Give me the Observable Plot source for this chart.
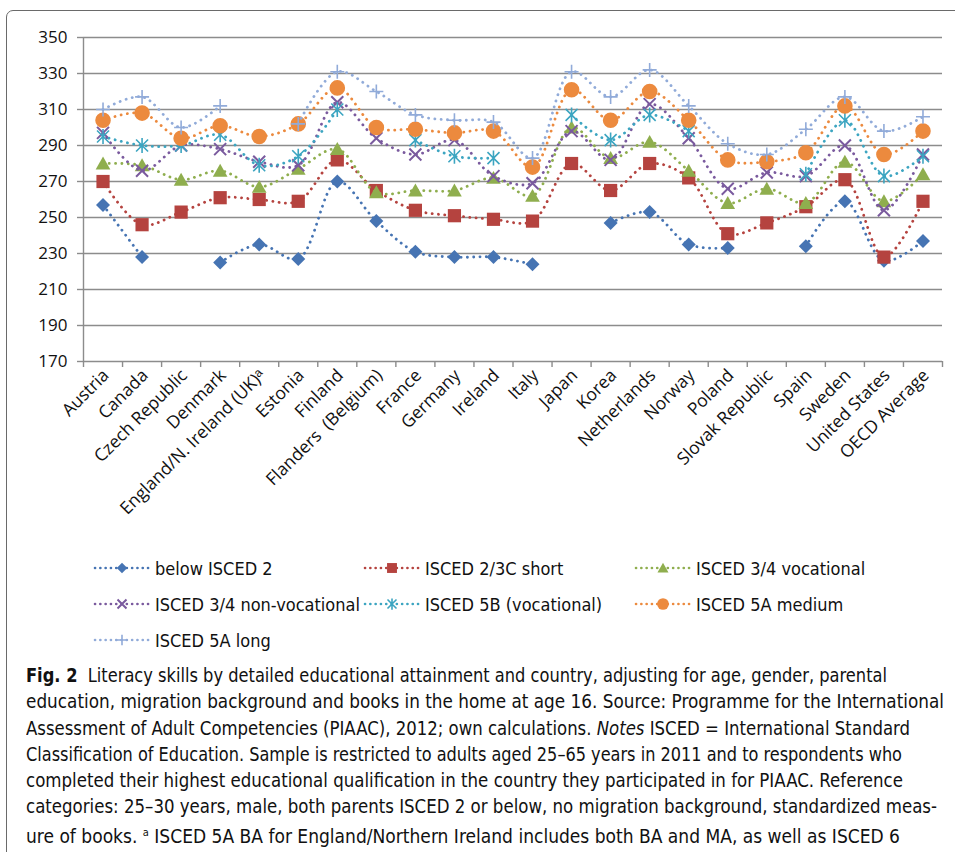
<!DOCTYPE html>
<html>
<head>
<meta charset="utf-8">
<script src="https://cdn.jsdelivr.net/npm/d3@7"></script>
<script src="https://cdn.jsdelivr.net/npm/@observablehq/plot@0.6"></script>
<style>
  body { margin: 0; background: #fff; width: 955px; height: 852px; overflow: hidden; position: relative; }
  #frame { position: absolute; left: 6px; top: 10px; width: 1000px; height: 900px; border: 1.3px solid #6a6a6a; border-radius: 7px; }
  #chart { position: absolute; left: 0; top: 0; }
  #legend { position: absolute; left: 0; top: 556px; width: 955px; font-family: "DejaVu Sans Condensed", "Noto Sans", sans-serif; font-size: 18px; color: #111; }
  .item { position: absolute; display: flex; align-items: center; height: 24px; white-space: nowrap; }
  .item svg { margin-right: 4px; }
  #caption { position: absolute; left: 26px; top: 662px; font-family: "DejaVu Sans Condensed", "Noto Sans", sans-serif; font-size: 19px; line-height: 26.3px; color: #111; white-space: nowrap; }
  #caption div { transform-origin: 0 50%; width: max-content; }
  #caption b { font-weight: bold; }
</style>
</head>
<body>
<div id="frame"></div>
<div id="chart"></div>
<div id="legend"></div>
<div id="caption">
<div data-w="861"><b>Fig. 2</b>&nbsp; Literacy skills by detailed educational attainment and country, adjusting for age, gender, parental</div>
<div data-w="918">education, migration background and books in the home at age 16. Source: Programme for the International</div>
<div data-w="884">Assessment of Adult Competencies (PIAAC), 2012; own calculations. <i>Notes</i> ISCED = International Standard</div>
<div data-w="876">Classification of Education. Sample is restricted to adults aged 25–65 years in 2011 and to respondents who</div>
<div data-w="877">completed their highest educational qualification in the country they participated in for PIAAC. Reference</div>
<div data-w="911">categories: 25–30 years, male, both parents ISCED 2 or below, no migration background, standardized meas-</div>
<div data-w="874">ure of books. <sup style="font-size:11px">a</sup> ISCED 5A BA for England/Northern Ireland includes both BA and MA, as well as ISCED 6</div>
</div>
<script>
// ---- data ----
const countries = ["Austria", "Canada", "Czech Republic", "Denmark", "England/N. Ireland (UK)ᵃ", "Estonia", "Finland",
  "Flanders  (Belgium)", "France", "Germany", "Ireland", "Italy", "Japan", "Korea", "Netherlands", "Norway", "Poland",
  "Slovak Republic", "Spain", "Sweden", "United States", "OECD Average"];
const yTicks = [170, 190, 210, 230, 250, 270, 290, 310, 330, 350];

const belowISCED2   = [257, 228, null, 225, 235, 227, 270, 248, 231, 228, 228, 224, null, 247, 253, 235, 233, null, 234, 259, 226, 237];
const isced23cShort = [270, 246, 253, 261, 260, 259, 282, 265, 254, 251, 249, 248, 280, 265, 280, 272, 241, 247, 256, 271, 228, 259];
const isced34Voc    = [280, 279, 271, 276, 267, 277, 288, 264, 265, 265, 272, 262, 300, 283, 292, 276, 258, 266, 258, 281, 259, 274];
const isced34NonVoc = [297, 276, 290, 288, 281, 279, 314, 294, 285, 293, 273, 269, 298, 282, 313, 294, 266, 275, 273, 290, 254, 285];
const isced5B       = [295, 290, 290, 296, 279, 284, 310, null, 293, 284, 283, null, 307, 293, 307, 298, null, null, 274, 304, 273, 284];
const isced5AMedium = [304, 308, 294, 301, 295, 302, 322, 300, 299, 297, 298, 278, 321, 304, 320, 304, 282, 281, 286, 312, 285, 298];
const isced5ALong   = [310, 317, 300, 312, null, 302, 331, 320, 307, 304, 303, 283, 331, 317, 332, 312, 291, 285, 299, 317, 298, 306];

const seriesNames = ["below ISCED 2", "ISCED 2/3C short", "ISCED 3/4 vocational", "ISCED 3/4 non-vocational",
  "ISCED 5B (vocational)", "ISCED 5A medium", "ISCED 5A long"];
const seriesValues = [belowISCED2, isced23cShort, isced34Voc, isced34NonVoc, isced5B, isced5AMedium, isced5ALong];

// ---- symbols (custom, sized by r) ----
const rad = s => Math.sqrt(s / Math.PI);
const symDiamond = {draw(c, s) { const r = rad(s); c.moveTo(0, -r); c.lineTo(r, 0); c.lineTo(0, r); c.lineTo(-r, 0); c.closePath(); }};
const symSquare = {draw(c, s) { const r = rad(s); c.rect(-r, -r, 2 * r, 2 * r); }};
const symTriangle = {draw(c, s) { const r = rad(s); c.moveTo(0, -r); c.lineTo(r * 1.05, r * 0.85); c.lineTo(-r * 1.05, r * 0.85); c.closePath(); }};
const symTimes = {draw(c, s) { const r = rad(s); c.moveTo(-r, -r); c.lineTo(r, r); c.moveTo(r, -r); c.lineTo(-r, r); }};
const symAsterisk = {draw(c, s) { const r = rad(s); c.moveTo(-r, -r); c.lineTo(r, r); c.moveTo(r, -r); c.lineTo(-r, r); c.moveTo(0, -r * 1.25); c.lineTo(0, r * 1.25); }};
const symCircle = {draw(c, s) { const r = rad(s); c.moveTo(r, 0); c.arc(0, 0, r, 0, 2 * Math.PI); }};
const symPlus = {draw(c, s) { const r = rad(s); c.moveTo(-r, 0); c.lineTo(r, 0); c.moveTo(0, -r); c.lineTo(0, r); }};

const styles = [
  {color: "#4674B3", symbol: symDiamond, r: 7, filled: true},
  {color: "#B5433F", symbol: symSquare, r: 6.6, filled: true},
  {color: "#8FAE4E", symbol: symTriangle, r: 7, filled: true},
  {color: "#7A5A9E", symbol: symTimes, r: 6, filled: false, sw: 2},
  {color: "#3CA5C1", symbol: symAsterisk, r: 6, filled: false, sw: 1.6},
  {color: "#EC8A3E", symbol: symCircle, r: 7.8, filled: true},
  {color: "#91ABD9", symbol: symPlus, r: 7, filled: false, sw: 1.6}
];

const rows = seriesNames.map((name, k) => seriesValues[k].map((v, i) => ({i, v, name})));

const marks = [
  Plot.gridY({ticks: yTicks, stroke: "#8c8c8c", strokeOpacity: 1, strokeWidth: 1.4}),
  Plot.axisY({ticks: yTicks, tickSize: 6, tickPadding: 10, stroke: "#8c8c8c", strokeWidth: 1.4, fontSize: 17, fill: "#111", label: null}),
  Plot.ruleX([-0.5], {y1: 170, y2: 350, stroke: "#8c8c8c", strokeWidth: 1.4}),
  Plot.axisX({ticks: d3.range(countries.length + 1).map(i => i - 0.5), tickSize: 6, tickFormat: () => "", stroke: "#8c8c8c", strokeWidth: 1.4, label: null}),
  Plot.axisX({ticks: d3.range(countries.length), tickSize: 0, tickFormat: i => countries[i], tickRotate: -45, tickPadding: 11, dx: 3, fontSize: 17.5, fill: "#111", label: null})
];
rows.forEach((data, k) => {
  const st = styles[k];
  marks.push(Plot.line(data, {x: "i", y: "v", stroke: st.color, strokeWidth: 2.8, strokeDasharray: "0.1 6.2", strokeLinecap: "round", curve: "catmull-rom"}));
  marks.push(Plot.dot(data, {x: "i", y: "v", symbol: st.symbol, r: st.r,
    fill: st.filled ? st.color : "none", stroke: st.filled ? "none" : st.color, strokeWidth: st.sw || 0}));
});

const chart = Plot.plot({
  width: 955, height: 550,
  marginTop: 37, marginBottom: 189, marginLeft: 83, marginRight: 13,
  style: {fontFamily: "'Open Sans', sans-serif", color: "#111", background: "transparent", overflow: "visible"},
  x: {type: "linear", domain: [-0.5, countries.length - 0.5], axis: null},
  y: {domain: [170, 350], axis: null},
  marks
});
document.getElementById("chart").appendChild(chart);

// ---- legend ----
const legend = document.getElementById("legend");
const colX = [93, 363, 634];
seriesNames.forEach((name, k) => {
  const st = styles[k];
  const div = document.createElement("div");
  div.className = "item";
  div.style.left = colX[k % 3] + "px";
  div.style.top = (Math.floor(k / 3) * 36) + "px";
  const svg = d3.create("svg").attr("width", 58).attr("height", 20);
  svg.append("line").attr("x1", 2).attr("x2", 56).attr("y1", 10).attr("y2", 10)
    .attr("stroke", st.color).attr("stroke-width", 2.6).attr("stroke-dasharray", "0.1 5.2").attr("stroke-linecap", "round");
  const p = d3.path();
  const rr = st.r * 0.75;
  st.symbol.draw(p, rr * rr * Math.PI);
  svg.append("path").attr("d", p.toString()).attr("transform", "translate(29,10)")
    .attr("fill", st.filled ? st.color : "none").attr("stroke", st.filled ? "none" : st.color).attr("stroke-width", st.sw || 0);
  div.appendChild(svg.node());
  const span = document.createElement("span");
  span.textContent = name;
  div.appendChild(span);
  legend.appendChild(div);
});

// ---- fit caption lines to the reference widths ----
document.querySelectorAll("#caption div").forEach(el => {
  const w = el.getBoundingClientRect().width;
  const target = +el.dataset.w;
  el.style.transform = `scaleX(${target / w})`;
});
</script>
</body>
</html>
